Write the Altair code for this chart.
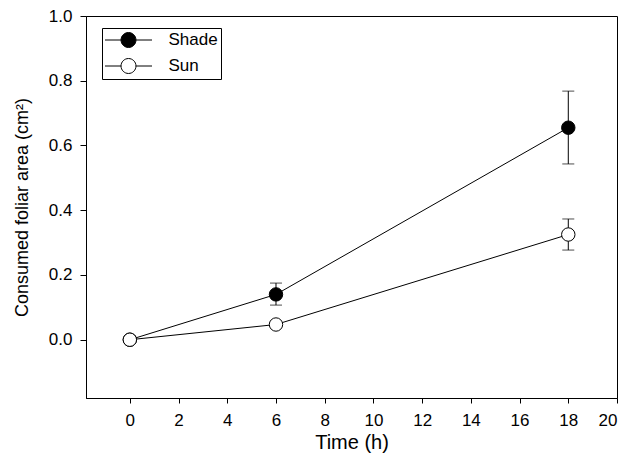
import altair as alt
import pandas as pd

time_h = [0, 6, 18]
series = ["Shade", "Sun"]
shade_mean = [0.0, 0.140, 0.655]
shade_lo = [0.0, 0.107, 0.543]
shade_hi = [0.0, 0.175, 0.768]
sun_mean = [0.0, 0.047, 0.325]
sun_lo = [0.0, 0.047, 0.277]
sun_hi = [0.0, 0.047, 0.373]
x_ticks = [0, 2, 4, 6, 8, 10, 12, 14, 16, 18, 20]
y_ticks = [0.0, 0.2, 0.4, 0.6, 0.8, 1.0]

rows = []
for i, t in enumerate(time_h):
    rows.append({"t": t, "s": "Shade", "o": 0, "m": shade_mean[i], "lo": shade_lo[i], "hi": shade_hi[i]})
for i, t in enumerate(time_h):
    rows.append({"t": t, "s": "Sun", "o": 1, "m": sun_mean[i], "lo": sun_lo[i], "hi": sun_hi[i]})
df = pd.DataFrame(rows)
err = df[df["hi"] > df["lo"]]

xs = alt.Scale(domain=[-1.8, 20], nice=False, zero=False)
ys = alt.Scale(domain=[-0.18, 1.0], nice=False, zero=False)
X = alt.X("t:Q", scale=xs, title="Time (h)",
          axis=alt.Axis(values=x_ticks, format="d", grid=False, titleFontSize=20))
Y = alt.Y("m:Q", scale=ys, title="Consumed foliar area (cm²)",
          axis=alt.Axis(values=y_ticks, format=".1f", grid=False, titleFontSize=18))

base = alt.Chart(df)

rules = alt.Chart(err).mark_rule(color="black", strokeWidth=1).encode(
    x=alt.X("t:Q", scale=xs), y=alt.Y("lo:Q", scale=ys), y2="hi:Q")
cap_lo = alt.Chart(err).mark_tick(color="black", orient="horizontal", size=12, thickness=1).encode(
    x=alt.X("t:Q", scale=xs), y=alt.Y("lo:Q", scale=ys))
cap_hi = alt.Chart(err).mark_tick(color="black", orient="horizontal", size=12, thickness=1).encode(
    x=alt.X("t:Q", scale=xs), y=alt.Y("hi:Q", scale=ys))

lines = base.mark_line(color="black", strokeWidth=1).encode(
    x=X, y=Y, detail="s:N")

# symbol: 47px wide line with 15px circle, at symbolSize 289 (unit = 8.5px)
legend_path = "M-2.765,0H-0.88M0.88,0H2.765M-0.88,0A0.88,0.88 0 1,0 0.88,0A0.88,0.88 0 1,0 -0.88,0Z"

points = base.mark_point(filled=False, size=180, strokeWidth=1, stroke="black", opacity=1).encode(
    x=X, y=Y,
    fill=alt.Fill("s:N", scale=alt.Scale(domain=series, range=["black", "white"]),
                  legend=alt.Legend(title=None, orient="none", legendX=16, legendY=12,
                                    symbolType=legend_path, symbolSize=289,
                                    symbolOffset=14.5,
                                    symbolStrokeColor="black", symbolStrokeWidth=1,
                                    labelFontSize=17, labelFont="Liberation Sans",
                                    labelColor="black", strokeColor="black",
                                    padding=3, rowPadding=6, labelOffset=31)),
    order="o:Q")

chart = alt.layer(rules, cap_lo, cap_hi, lines, points).properties(
    width=531, height=382,
    autosize=alt.AutoSizeParams(type="none"),
    padding={"left": 78, "top": 8, "right": 2, "bottom": 55},
).configure_view(stroke="black", strokeWidth=1).configure_axis(
    domainColor="black", tickColor="black", tickSize=5, labelPadding=9,
    labelFont="Liberation Sans", labelFontSize=17, labelColor="black",
    titleFont="Liberation Sans", titleFontWeight="normal", titleColor="black",
).configure_axisX(titlePadding=4).configure_axisY(titlePadding=17, tickSize=6, labelPadding=8)

chart.save("out.html", embed_options={"renderer": "svg", "actions": False})
